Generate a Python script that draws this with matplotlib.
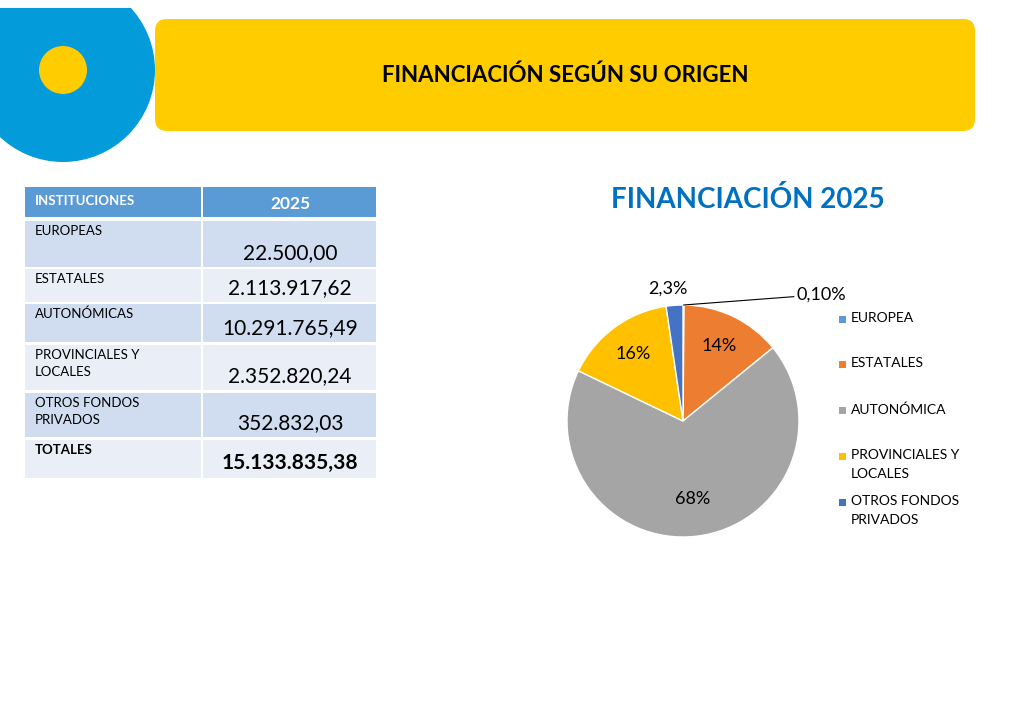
import matplotlib

matplotlib.use("Agg")

import matplotlib.pyplot as plt
import numpy as np
from matplotlib.patches import Circle, FancyBboxPatch, Rectangle

plt.rcParams["font.family"] = ["Lato", "DejaVu Sans"]

# table data
names = ["EUROPEAS", "ESTATALES", "AUTONÓMICAS", "PROVINCIALES Y\nLOCALES", "OTROS FONDOS\nPRIVADOS"]
values = [22500.00, 2113917.62, 10291765.49, 2352820.24, 352832.03]
value_text = ["22.500,00", "2.113.917,62", "10.291.765,49", "2.352.820,24", "352.832,03"]
total_text = "15.133.835,38"

# pie data
legend_names = ["EUROPEA", "ESTATALES", "AUTONÓMICA", "PROVINCIALES Y\nLOCALES", "OTROS FONDOS\nPRIVADOS"]
pie_labels = ["0,10%", "14%", "68%", "16%", "2,3%"]
pie_colors = ["#5B9BD5", "#ED7D31", "#A5A5A5", "#FFC000", "#4472C4"]

W, H = 1024, 724
fig = plt.figure(figsize=(W / 100, H / 100), dpi=100)
bg = fig.add_axes([0, 0, 1, 1])
bg.set_xlim(0, W)
bg.set_ylim(H, 0)
bg.axis("off")

# header decoration
banner = FancyBboxPatch((155, 19), 820, 112, boxstyle="round,pad=0,rounding_size=12",
                        fc="#FFCC00", ec="none")
bg.add_patch(banner)
big = Circle((63, 70), 92, fc="#039BD9", ec="none")
bg.add_patch(big)
big.set_clip_path(Rectangle((0, 8), 300, 300, transform=bg.transData))
bg.add_patch(Circle((63, 70), 24, fc="#FFCC00", ec="none"))
bg.text(565, 75, "FINANCIACIÓN SEGÚN SU ORIGEN", fontsize=16, fontweight="bold",
        ha="center", va="center")

# table
row_top = [187, 221, 269, 304, 345, 393, 440]
row_bot = [217, 267, 302, 342, 390, 437, 478]
col1, col2, col_end = 25, 203, 376
for i, (t, b) in enumerate(zip(row_top, row_bot)):
    if i == 0:
        fc = "#5B9BD5"
    else:
        fc = "#D0DCEF" if i % 2 == 1 else "#E9EEF7"
    bg.add_patch(Rectangle((col1, t), col2 - col1 - 2, b - t, fc=fc, ec="none"))
    bg.add_patch(Rectangle((col2, t), col_end - col2, b - t, fc=fc, ec="none"))

bg.text(35, 201, "INSTITUCIONES", color="white", fontsize=9.5, fontweight="bold", va="center")
bg.text(290, 204, "2025", color="white", fontsize=12.5, fontweight="bold", ha="center", va="center")
for i, (n, v) in enumerate(zip(names, value_text)):
    t, b = row_top[i + 1], row_bot[i + 1]
    bg.text(35, t + 4, n, fontsize=9.5, va="top", linespacing=1.5)
    bg.text(290, b - 4, v, fontsize=15, ha="center", va="bottom")
bg.text(35, row_top[-1] + 4, "TOTALES", fontsize=9.5, fontweight="bold", va="top")
bg.text(290, row_bot[-1] - 5, total_text, fontsize=15, fontweight="bold", ha="center", va="bottom")

# pie chart
bg.text(748, 199, "FINANCIACIÓN 2025", fontsize=20, fontweight="bold", color="#0070C0",
        ha="center", va="center")
cx, cy, r = 683, 421, 116
pax = fig.add_axes([(cx - r) / W, (H - cy - r) / H, 2 * r / W, 2 * r / H])
wedges, _ = pax.pie(values, colors=pie_colors, startangle=90, counterclock=False,
                    wedgeprops=dict(linewidth=1, edgecolor="white"))
pax.set_xlim(-1, 1)
pax.set_ylim(-1, 1)
pax.set_aspect("equal")

for i, (w, lab) in enumerate(zip(wedges, pie_labels)):
    ang = np.deg2rad((w.theta1 + w.theta2) / 2)
    if i == 0:
        pax.annotate(lab, xy=(np.cos(ang), np.sin(ang)), xytext=(0.98, 1.09),
                     fontsize=13, va="center", ha="left", annotation_clip=False,
                     arrowprops=dict(arrowstyle="-", color="black", lw=0.8,
                                     shrinkA=0, shrinkB=0))
    elif i == 4:
        pax.text(1.12 * np.cos(ang) - 0.05, 1.14 * np.sin(ang), lab, fontsize=13,
                 ha="center", va="center")
    else:
        d = 0.72 if i != 2 else 0.68
        pax.text(d * np.cos(ang), d * np.sin(ang), lab, fontsize=13, ha="center", va="center")

# legend
leg_y = [320, 365, 411, 457, 503]
for y, n, c in zip(leg_y, legend_names, pie_colors):
    bg.add_patch(Rectangle((839, y - 4), 7, 7, fc=c, ec="none"))
    bg.text(851, y - 8, n, fontsize=10, va="top", linespacing=1.75)

fig.savefig("out.png", dpi=100)
